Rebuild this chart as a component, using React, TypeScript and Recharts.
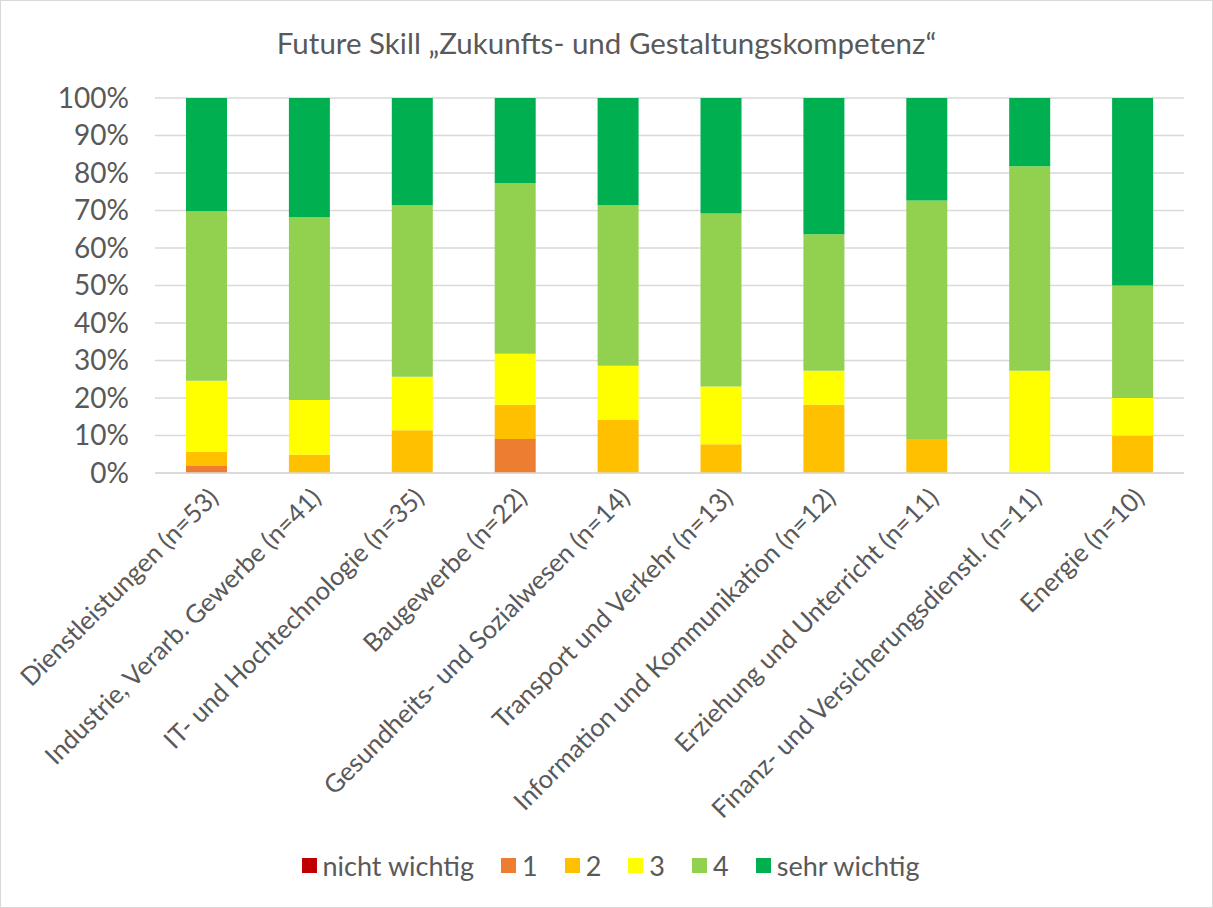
import React from "react";
import { Bar, BarChart, CartesianGrid, Legend, XAxis, YAxis } from "recharts";

const categories = [
	"Dienstleistungen (n=53)",
	"Industrie, Verarb. Gewerbe (n=41)",
	"IT- und Hochtechnologie (n=35)",
	"Baugewerbe (n=22)",
	"Gesundheits- und Sozialwesen (n=14)",
	"Transport und Verkehr (n=13)",
	"Information und Kommunikation (n=12)",
	"Erziehung und Unterricht (n=11)",
	"Finanz- und Versicherungsdienstl. (n=11)",
	"Energie (n=10)",
];

// shares in percent, bottom to top
const nichtWichtig = [0, 0, 0, 0, 0, 0, 0, 0, 0, 0];
const stufe1 = [1.9, 0, 0, 9.1, 0, 0, 0, 0, 0, 0];
const stufe2 = [3.8, 4.9, 11.4, 9.1, 14.3, 7.7, 18.2, 9.1, 0, 10];
const stufe3 = [18.9, 14.6, 14.3, 13.6, 14.3, 15.4, 9.1, 0, 27.3, 10];
const stufe4 = [45.3, 48.8, 45.7, 45.5, 42.9, 46.2, 36.4, 63.6, 54.5, 30];
const sehrWichtig = [30.2, 31.7, 28.6, 22.7, 28.6, 30.8, 36.4, 27.3, 18.2, 50];

const yTicks = [0, 0.1, 0.2, 0.3, 0.4, 0.5, 0.6, 0.7, 0.8, 0.9, 1];

const series = [
	{ key: "nicht", name: "nicht wichtig", color: "#C00000", values: nichtWichtig },
	{ key: "s1", name: "1", color: "#ED7D31", values: stufe1 },
	{ key: "s2", name: "2", color: "#FFC000", values: stufe2 },
	{ key: "s3", name: "3", color: "#FFFF00", values: stufe3 },
	{ key: "s4", name: "4", color: "#92D050", values: stufe4 },
	{ key: "sehr", name: "sehr wichtig", color: "#00B050", values: sehrWichtig },
];

const data = categories.map((name, i) => {
	const row: Record<string, string | number> = { name };
	for (const s of series) row[s.key] = s.values[i];
	return row;
});

const FONT = "Lato, 'Open Sans', sans-serif";
const TEXT = "#595959";

function CategoryTick({ x, y, payload }: { x?: number; y?: number; payload?: { value: string } }) {
	return (
		<g transform={`translate(${(x ?? 0) + 7},${(y ?? 0) + 12})`}>
			<text
				textAnchor="end"
				transform="rotate(-45)"
				dy="0.35em"
				fill={TEXT}
				fontSize={25.5}
				fontFamily={FONT}
			>
				{payload?.value}
			</text>
		</g>
	);
}

function LegendContent() {
	return (
		<div
			style={{
				display: "flex",
				justifyContent: "center",
				gap: 27,
				paddingLeft: 36,
				fontFamily: FONT,
				fontSize: 27,
				color: TEXT,
			}}
		>
			{series.map((s) => (
				<div key={s.key} style={{ display: "flex", alignItems: "center", gap: 6 }}>
					<span style={{ width: 15, height: 15, background: s.color, display: "inline-block" }} />
					<span>{s.name}</span>
				</div>
			))}
		</div>
	);
}

export default function App() {
	return (
		<div
			style={{
				position: "absolute",
				left: 0,
				top: 0,
				width: 1211,
				height: 906,
				border: "1px solid #d9d9d9",
				background: "#fff",
			}}
		>
			<div
				style={{
					position: "absolute",
					top: 24,
					width: "100%",
					textAlign: "center",
					fontFamily: FONT,
					fontSize: 29.5,
					color: TEXT,
				}}
			>
				Future Skill „Zukunfts- und Gestaltungskompetenz“
			</div>
			<BarChart
				width={1211}
				height={906}
				data={data}
				stackOffset="expand"
				barSize={41}
				margin={{ top: 97, right: 28, left: 0, bottom: 8 }}
			>
				<CartesianGrid vertical={false} stroke="#d9d9d9" strokeWidth={1.5} />
				<XAxis
					dataKey="name"
					interval={0}
					height={376}
					tickLine={false}
					axisLine={{ stroke: "#d9d9d9", strokeWidth: 1.5 }}
					tick={<CategoryTick />}
				/>
				<YAxis
					width={154}
					domain={[0, 1]}
					ticks={yTicks}
					interval={0}
					tickFormatter={(v: number) => `${Math.round(v * 100)}%`}
					tickLine={false}
					axisLine={false}
					tickSize={0}
					tickMargin={26}
					tick={{ fill: TEXT, fontSize: 28, fontFamily: FONT }}
				/>
				<Legend verticalAlign="bottom" height={50} content={<LegendContent />} />
				{series.map((s) => (
					<Bar
						key={s.key}
						dataKey={s.key}
						name={s.name}
						stackId="a"
						fill={s.color}
						isAnimationActive={false}
					/>
				))}
			</BarChart>
		</div>
	);
}
